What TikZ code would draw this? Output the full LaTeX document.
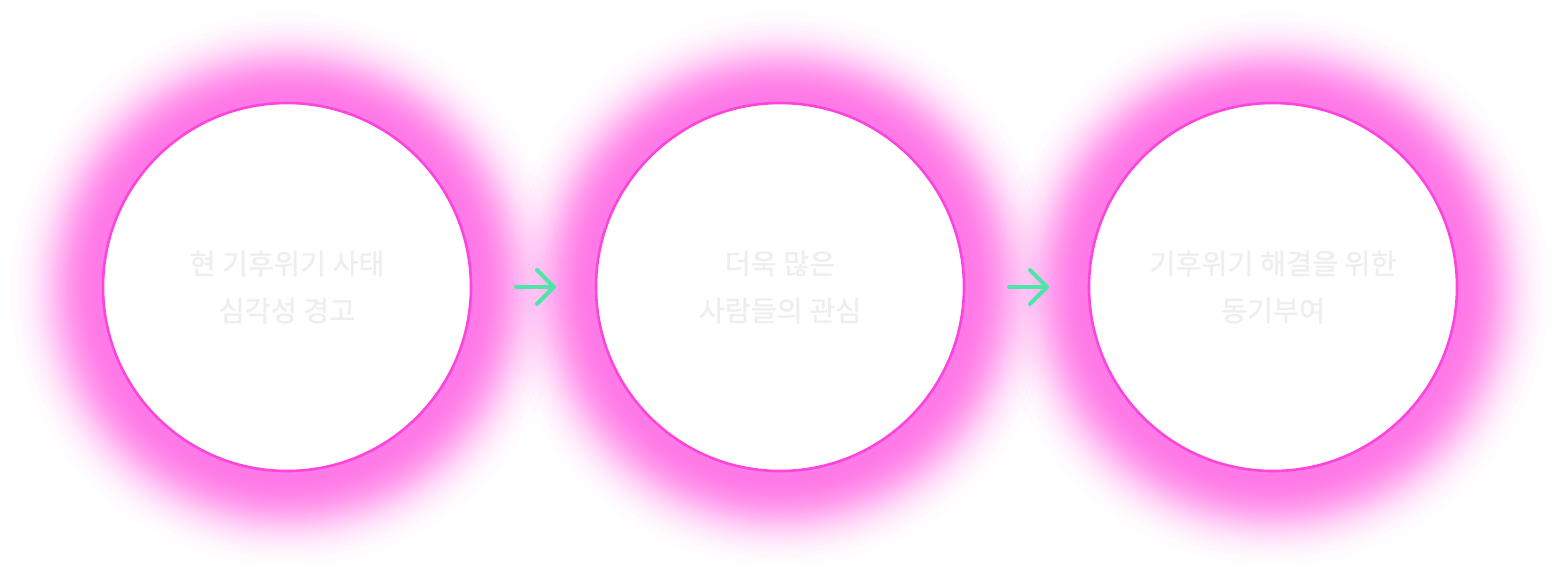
\documentclass[tikz,border=0pt]{standalone}
\usepackage{fontspec}
\newfontfamily\krfont[FakeBold=0.8]{Noto Sans CJK KR}
\usetikzlibrary{calc}
\definecolor{glowc}{HTML}{FF55E0}
\definecolor{ringc}{HTML}{FF44DD}
\definecolor{arrc}{HTML}{4DE6A8}
\definecolor{txtc}{HTML}{EEEEEE}
\begin{document}
\begin{tikzpicture}[x=1pt,y=-1pt,
  circ/.style={circle, draw=ringc, line width=2.6pt, fill=white, minimum size=368pt, inner sep=0pt, align=center, text=txtc, font=\krfont\fontsize{28.3pt}{47pt}\selectfont},
  arr/.style={draw=arrc, line width=4pt, line cap=round, line join=round},
  glow/.style={fill=glowc, opacity=0.025}]
\useasboundingbox (0,0) rectangle (1560,574);
\foreach \cx in {287,780,1273}{
  \foreach \k in {1,...,67}{
    \pgfmathsetmacro\rr{184+45*sqrt(ln(68/\k))}
    \fill[glow] (\cx,289) circle[radius=\rr];
  }
}
\node[circ] (c1) at (287,287) {현 기후위기 사태\\심각성 경고};
\node[circ] (c2) at (780,287) {더욱 많은\\사람들의 관심};
\node[circ] (c3) at (1273,287) {기후위기 해결을 위한\\동기부여};
\coordinate (a1s) at (516,287);
\coordinate (a1e) at (554,287);
\coordinate (a2s) at (1009,287);
\coordinate (a2e) at (1047,287);
\draw[arr] (a1s) -- (a1e);
\draw[arr] ($(a1e)+(-17,-17)$) -- (a1e) -- ($(a1e)+(-17,17)$);
\draw[arr] (a2s) -- (a2e);
\draw[arr] ($(a2e)+(-17,-17)$) -- (a2e) -- ($(a2e)+(-17,17)$);
\end{tikzpicture}
\end{document}
